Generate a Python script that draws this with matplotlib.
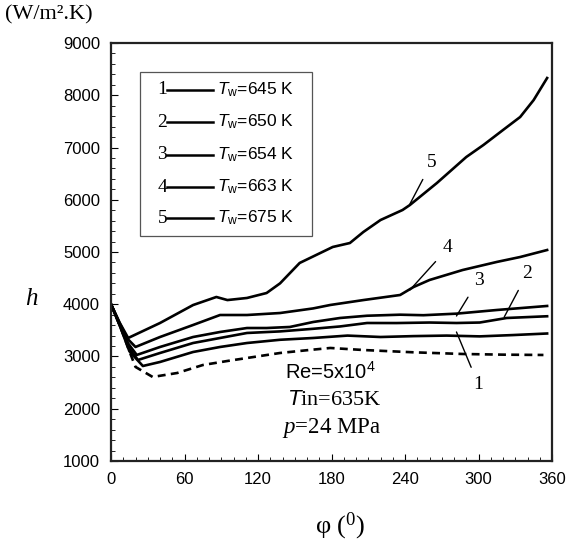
import matplotlib
matplotlib.use("Agg")
import matplotlib.pyplot as plt
from matplotlib.patches import Rectangle
from matplotlib.lines import Line2D

plt.rcParams['mathtext.fontset'] = 'custom'
plt.rcParams['mathtext.rm'] = 'Liberation Sans'
plt.rcParams['mathtext.sf'] = 'Liberation Sans:italic'
plt.rcParams['mathtext.it'] = 'Liberation Serif:italic'
plt.rcParams['mathtext.bf'] = 'Liberation Serif'

# curve data: phi (deg), h (W/m2.K)
phi1 = [0, 7, 15, 26, 40, 67, 89, 111, 138, 165, 193, 220, 247, 274, 301, 328, 356]
h1 = [4000, 3600, 3100, 2818, 2895, 3086, 3182, 3258, 3320, 3354, 3400, 3373, 3390, 3400, 3385, 3410, 3440]

phi2 = [0, 7, 15, 22, 40, 67, 89, 111, 138, 165, 187, 209, 233, 260, 282, 301, 323, 356]
h2 = [4000, 3600, 3150, 2933, 3067, 3258, 3354, 3450, 3480, 3530, 3575, 3641, 3640, 3650, 3641, 3650, 3737, 3770]

phi3 = [0, 7, 14, 21, 40, 67, 89, 111, 127, 146, 165, 187, 209, 236, 255, 282, 315, 356]
h3 = [4000, 3620, 3250, 3029, 3182, 3373, 3469, 3545, 3545, 3565, 3660, 3737, 3780, 3800, 3790, 3820, 3890, 3967]

phi4 = [0, 7, 13, 20, 40, 67, 89, 111, 138, 165, 179, 206, 236, 247, 260, 287, 315, 334, 356]
h4 = [4000, 3640, 3350, 3182, 3373, 3603, 3794, 3794, 3832, 3920, 3986, 4080, 4177, 4330, 4464, 4655, 4810, 4904, 5038]

phi5 = [0, 7, 14, 40, 67, 86, 95, 111, 127, 138, 154, 181, 195, 206, 220, 238, 244, 266, 290, 304, 320, 334, 345, 356]
h5 = [4000, 3650, 3354, 3641, 3985, 4139, 4080, 4120, 4215, 4400, 4790, 5096, 5172, 5383, 5612, 5804, 5900, 6320, 6818, 7048, 7335, 7584, 7908, 8330]

phi_d = [0, 8, 15, 20, 34, 54, 75, 95, 111, 138, 160, 179, 206, 247, 287, 320, 353]
h_d = [4000, 3550, 3100, 2800, 2608, 2684, 2837, 2914, 2971, 3067, 3120, 3163, 3124, 3080, 3048, 3035, 3029]

curve_ids = ['1', '2', '3', '4', '5']
wall_temps = ['645', '650', '654', '663', '675']

# curve labels: (label, text position, line end on curve)
labels = [
    ('5', (262, 6722), (244, 5919)),
    ('4', (275, 5077), (244, 4273)),
    ('3', (300, 4464), (282, 3775)),
    ('2', (340, 4598), (321, 3756)),
    ('1', (300, 2455), (282, 3469)),
]

fig = plt.figure(figsize=(5.77, 5.48), dpi=100)
ax = fig.add_axes([0.1924, 0.1588, 0.7643, 0.7627])

for p, h in [(phi1, h1), (phi2, h2), (phi3, h3), (phi4, h4), (phi5, h5)]:
    ax.plot(p, h, color='black', lw=1.9)
ax.plot(phi_d, h_d, color='black', lw=1.9, ls=(0, (3, 2)))

for lab, txt, tip in labels:
    ax.annotate(lab, xy=tip, xytext=txt, fontsize=14, family='Liberation Serif',
                ha='center', va='center',
                arrowprops=dict(arrowstyle='-', color='black', lw=1.0,
                                shrinkA=5, shrinkB=0))

ax.set_xlim(0, 360)
ax.set_ylim(1000, 9000)
ax.set_xticks(range(0, 361, 60))
ax.set_xticks(range(0, 361, 10), minor=True)
ax.set_yticks(range(1000, 9001, 1000))
ax.set_yticks(range(1000, 9001, 200), minor=True)
ax.tick_params(which='both', direction='in', labelsize=12, pad=8)
ax.tick_params(which='major', length=5)
ax.tick_params(which='minor', length=3)
for lb in ax.get_xticklabels() + ax.get_yticklabels():
    lb.set_family('Liberation Sans')
for s in ax.spines.values():
    s.set_linewidth(1.6)
    s.set_color('#222222')

# legend box drawn by hand: number, line, label
ax.add_patch(Rectangle((0.066, 0.538), 0.39, 0.392, transform=ax.transAxes,
                       fill=False, ec='#555555', lw=0.9))
rows_y = [0.8876, 0.8110, 0.7321, 0.6555, 0.5813]
for cid, tw, yy in zip(curve_ids, wall_temps, rows_y):
    ax.text(0.127, yy, cid, transform=ax.transAxes, fontsize=14,
            family='Liberation Serif', ha='right', va='center')
    ax.add_line(Line2D([0.128, 0.231], [yy, yy], transform=ax.transAxes,
                       color='black', lw=1.8))
    ax.text(0.240, yy, r'$\mathsf{T}_{\mathrm{w}}$=' + tw + ' K', transform=ax.transAxes,
            fontsize=12.5, family='Liberation Sans', ha='left', va='center')

ax.text(0.395, 0.212, r'Re=5x10$^{4}$', transform=ax.transAxes, fontsize=14.5,
        family='Liberation Sans', ha='left', va='center')
ax.text(0.398, 0.145, r'$\mathsf{T}$in=635K', transform=ax.transAxes, fontsize=16,
        family='Liberation Serif', ha='left', va='center')
ax.text(0.388, 0.080, r'$p$=24 MPa', transform=ax.transAxes, fontsize=16.5,
        family='Liberation Serif', ha='left', va='center')

fig.text(0.008, 0.972, '(W/m².K)', fontsize=16, family='Liberation Serif',
         ha='left', va='center')
fig.text(0.055, 0.455, 'h', fontsize=18, family='Liberation Serif',
         style='italic', ha='center', va='center')
fig.text(0.59, 0.04, r'φ ($^{\mathbf{0}}$)', fontsize=19, family='Liberation Serif',
         ha='center', va='center')

fig.savefig('out.png', dpi=100)
